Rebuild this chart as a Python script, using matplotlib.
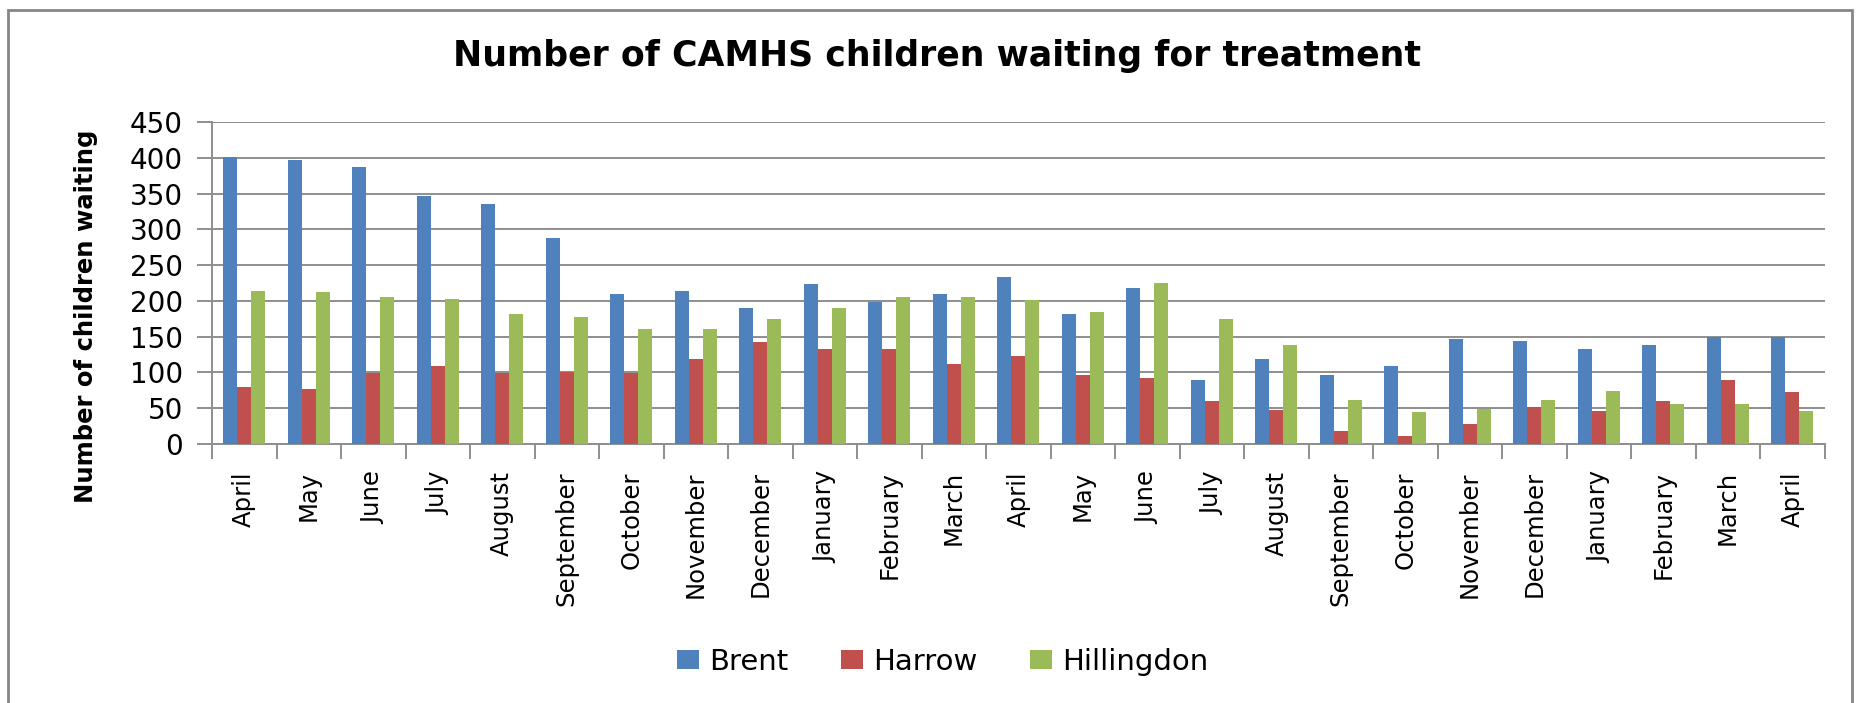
import matplotlib
matplotlib.use("Agg")
from matplotlib import pyplot as plt
from matplotlib.patches import Rectangle
import numpy as np

months = ['April', 'May', 'June', 'July', 'August', 'September', 'October',
          'November', 'December', 'January', 'February', 'March', 'April',
          'May', 'June', 'July', 'August', 'September', 'October', 'November',
          'December', 'January', 'February', 'March', 'April']

brent = [401, 397, 388, 347, 335, 288, 210, 214, 190, 223, 199, 210, 233,
         181, 218, 89, 118, 96, 109, 146, 144, 133, 138, 149, 150]
harrow = [79, 77, 99, 109, 99, 100, 99, 118, 142, 133, 133, 111, 122,
          96, 92, 59, 47, 18, 11, 27, 51, 46, 59, 89, 72]
hillingdon = [214, 212, 205, 203, 181, 177, 161, 160, 174, 190, 205, 205, 201,
              185, 225, 174, 138, 61, 44, 49, 61, 74, 55, 55, 46]

series_names = ['Brent', 'Harrow', 'Hillingdon']
colors = ['#4F81BD', '#C0504D', '#9BBB59']

plt.rcParams['font.family'] = ['DejaVu Sans']

fig = plt.figure(figsize=(18.6, 7.03), dpi=100)
ax = fig.add_axes([0.114, 0.369, 0.867, 0.457])

x = np.arange(len(months))
w = 0.217
for i, (vals, name) in enumerate(zip([brent, harrow, hillingdon], series_names)):
    ax.bar(x + (i - 1) * w, vals, width=w, color=colors[i], label=name, zorder=3)

ax.set_xlim(-0.5, len(months) - 0.5)
ax.set_ylim(0, 450)
ax.set_yticks(range(0, 451, 50))
ax.yaxis.grid(True, color='#8e8e8e', linewidth=1.4, zorder=0)

ax.set_xticks(x)
ax.set_xticklabels(months, rotation=90, fontsize=17.5)
ax.tick_params(axis='x', length=0, pad=20)
ax.set_xticks(np.arange(-0.5, len(months), 1), minor=True)
ax.tick_params(axis='x', which='minor', length=11, width=1.4, color='#8e8e8e', direction='out')
ax.tick_params(axis='y', labelsize=20, length=11, width=1.4, color='#8e8e8e', pad=10)

for s in ['top', 'right']:
    ax.spines[s].set_visible(False)
for s in ['left', 'bottom']:
    ax.spines[s].set_color('#8e8e8e')
    ax.spines[s].set_linewidth(1.4)

fig.text(0.504, 0.92, 'Number of CAMHS children waiting for treatment',
         ha='center', va='center', fontsize=25, fontweight='bold')
fig.text(0.046, 0.55, 'Number of children waiting', rotation=90,
         ha='center', va='center', fontsize=17.5, fontweight='bold')

ax.legend(loc='center', bbox_to_anchor=(0.507, 0.059), bbox_transform=fig.transFigure,
          ncol=3, frameon=False, fontsize=21, handlelength=0.75, handleheight=0.6,
          handletextpad=0.35, columnspacing=1.8)

# chart border
fig.patches.append(Rectangle((8 / 1860, -0.01), (1852 - 8) / 1860, (693 / 703) + 0.01,
                             transform=fig.transFigure, fill=False,
                             edgecolor='#868686', linewidth=2))

fig.savefig('out.png', dpi=100)
